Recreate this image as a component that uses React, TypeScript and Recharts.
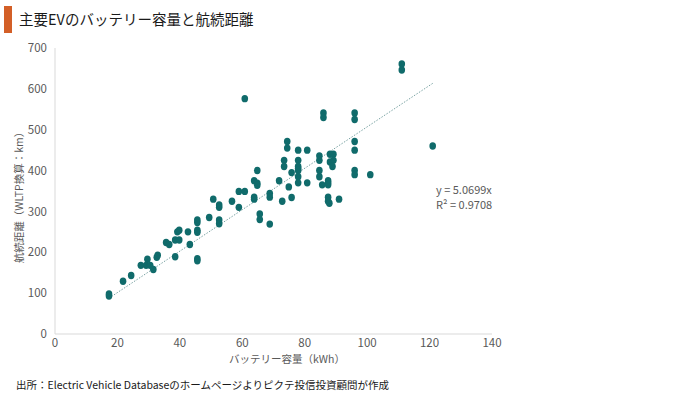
import { ReferenceLine, Scatter, ScatterChart, XAxis, YAxis } from "recharts";

const TITLE = "主要EVのバッテリー容量と航続距離";
const SOURCE = "出所：Electric Vehicle Databaseのホームページよりピクテ投信投資顧問が作成";
const X_LABEL = "バッテリー容量（kWh）";
const Y_LABEL = "航続距離（WLTP換算：km）";

// battery capacity (kWh)
const capacity = [
  17.3, 17.3, 21.8, 24.4, 27.5, 29.2, 29.6, 30.5, 31.5, 32.6, 32.9, 35.6, 36.6,
  38.5, 39.8, 39.2, 39.8, 38.5, 42.6, 43.2, 45.6, 45.6, 45.6, 45.6, 45.6, 45.6,
  49.4, 50.7, 52.6, 52.6, 52.6, 52.6, 56.7, 58.9, 58.9, 60.8, 60.8, 63.8, 63.8,
  63.8, 64.8, 64.8, 64.8, 65.6, 65.6, 68.8, 68.8, 68.8, 71.8, 72.8, 73.4, 73.4,
  74.4, 74.4, 74.9, 75.8, 75.8, 77.9, 77.9, 77.9, 77.9, 77.9, 77.9, 77.9, 80.8,
  80.8, 84.7, 84.7, 84.7, 84.7, 85.6, 86, 86, 87.5, 87.5, 87.5, 87.5, 87.5, 87.9,
  88.1, 89.2, 88.1, 89.2, 88.9, 91, 96, 96, 96, 96, 96, 96, 101, 111.1, 111.1,
  121,
];

// range (km)
const range = [
  98, 93, 129, 143, 168, 168, 183, 168, 158, 188, 193, 224, 219,
  230, 230, 250, 254, 189, 250, 219, 279, 273, 254, 249, 184, 179,
  285, 330, 316, 310, 279, 270, 325, 349, 310, 349, 576, 335, 330,
  375, 369, 364, 400, 294, 280, 344, 335, 269, 375, 325, 425, 410,
  471, 455, 360, 395, 334, 450, 425, 410, 405, 400, 385, 370, 450,
  370, 436, 425, 400, 385, 365, 541, 530, 375, 370, 365, 335, 325, 320,
  440, 440, 421, 425, 410, 330, 541, 525, 471, 450, 400, 390, 390, 661, 646,
  460,
];

const X_TICKS = [0, 20, 40, 60, 80, 100, 120, 140];
const Y_TICKS = [0, 100, 200, 300, 400, 500, 600, 700];

const SLOPE = 5.0699;
const R2 = 0.9708;

const points = capacity.map((x, i) => ({ x, y: range[i] }));
const xMin = Math.min(...capacity);
const xMax = Math.max(...capacity);

const FONT = '"Noto Sans CJK JP", "Noto Sans", sans-serif';
const GRAY = "#595959";
const TEAL = "#106b6b";

function Dot(props: any) {
  const { cx, cy } = props;
  return <ellipse cx={cx} cy={cy} rx={3.3} ry={3.7} fill={TEAL} />;
}

export default function App() {
  return (
    <div
      style={{
        position: "absolute",
        left: 0,
        top: 0,
        width: 680,
        height: 393,
        background: "#fff",
        fontFamily: FONT,
      }}
    >
      <div
        style={{
          position: "absolute",
          left: 4,
          top: 6,
          width: 8,
          height: 27,
          background: "#d35f27",
        }}
      />
      <div
        style={{
          position: "absolute",
          left: 19,
          top: 9,
          fontSize: 14.5,
          lineHeight: "20px",
          color: "#1a1a1a",
        }}
      >
        {TITLE}
      </div>
      <ScatterChart
        width={680}
        height={393}
        margin={{ top: 48, right: 188, bottom: 29, left: 0 }}
        style={{ position: "absolute", left: 0, top: 0 }}
      >
        <XAxis
          type="number"
          dataKey="x"
          domain={[0, 140]}
          ticks={X_TICKS}
          height={30}
          tickLine={false}
          tickSize={0}
          tickMargin={5}
          axisLine={{ stroke: "#d9d9d9" }}
          tick={{ fill: GRAY, fontSize: 11.5, fontFamily: FONT }}
          label={{
            content: () => (
              <text
                x={287}
                y={363}
                textAnchor="middle"
                fill={GRAY}
                fontSize={10.5}
                fontFamily={FONT}
              >
                {X_LABEL}
              </text>
            ),
          }}
        />
        <YAxis
          type="number"
          dataKey="y"
          domain={[0, 700]}
          ticks={Y_TICKS}
          width={55}
          tickLine={false}
          tickSize={0}
          tickMargin={8}
          axisLine={{ stroke: "#d9d9d9" }}
          tick={{ fill: GRAY, fontSize: 11.5, fontFamily: FONT }}
          label={{
            content: () => (
              <text
                x={0}
                y={0}
                transform="translate(23 195) rotate(-90)"
                textAnchor="middle"
                fill={GRAY}
                fontSize={10.5}
                fontFamily={FONT}
              >
                {Y_LABEL}
              </text>
            ),
          }}
        />
        <ReferenceLine
          segment={[
            { x: xMin, y: SLOPE * xMin },
            { x: xMax, y: SLOPE * xMax },
          ]}
          stroke="#7aa3a3"
          strokeWidth={1}
          strokeDasharray="1.5 1.5"
          ifOverflow="visible"
        />
        <Scatter data={points} shape={<Dot />} isAnimationActive={false} />
      </ScatterChart>
      <div
        style={{
          position: "absolute",
          left: 436,
          top: 182,
          fontSize: 11,
          lineHeight: "14.5px",
          color: GRAY,
        }}
      >
        <div>y = {SLOPE}x</div>
        <div>R² = {R2}</div>
      </div>
      <div
        style={{
          position: "absolute",
          left: 16,
          top: 378,
          fontSize: 10.5,
          lineHeight: "14px",
          color: "#1a1a1a",
        }}
      >
        {SOURCE}
      </div>
    </div>
  );
}
